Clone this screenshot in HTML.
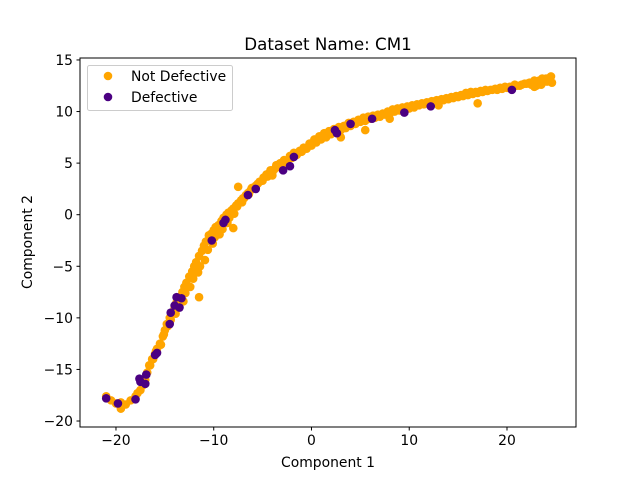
<!DOCTYPE html>
<html><head><meta charset="utf-8"><style>
body{margin:0;background:#fff;}
svg{display:block;font-family:"DejaVu Sans","Liberation Sans",sans-serif;}
</style></head><body>
<svg id="chart" width="640" height="480">
<rect width="640" height="480" fill="#fff"/>
<g id="marks"></g>
<g id="axes"></g>
</svg>
<script>
const okX=[-21,-20.5,-20,-19.5,-19.5,-19,-18.5,-18,-17.8,-17.5,-17.2,-17,-16.8,-16.5,-16.3,-16,-15.8,-15.5,-15.2,-15,-14.8,-14.5,-14.2,-14,-13.8,-13.5,-13.2,-13,-12.8,-12.5,-12.2,-12,-11.8,-11.5,-11.2,-11,-10.8,-10.5,-10.2,-10,-9.8,-9.5,-9.2,-9,-8.7,-8.5,-8.2,-8,-7.7,-7.5,-7.2,-7,-6.7,-6.5,-6.2,-6,-5.5,-5,-4.5,-4,-3.8,-3.5,-3,-2.5,-2,-1.5,-1,-0.5,0,0.5,1,1.5,2,2.5,3,3.5,4,4.5,5,5.5,6,6.5,7,7.5,8,8.5,9,9.5,10,10.5,11,11.5,12,12.5,13,13.5,14,14.5,15,15.5,16,16.5,17,17.5,18,18.5,19,19.5,20,20.5,21,21.5,22,22.5,23,23.3,23.6,24,24.2,24.4,24.6,23,22.5,23.8,24.3,-11.5,-7.5,17,5.5,-8,-4,-1,3,8,13,
-16.6,-15.9,-15.1,-14.4,-13.7,-12.9,-12.1,-11.4,-10.6,-9.9,-9.1,-8.4,-7.6,-6.9,-6.1,-5.3,-4.6,-3.6,-2.8,-1.8,-0.8,0.3,1.3,2.3,3.3,4.3,5.3,6.3,7.3,8.3,9.3,10.3,11.3,12.3,13.3,14.3,15.3,16.3,17.3,18.3,19.3,20.3,21.3,22.3,23.2,23.9,24.5,22.8,23.5,24.1,
-16.2,-15.4,-14.7,-13.9,-13.1,-12.4,-11.6,-10.9,-10.1,-9.4,-8.6,-7.9,-7.1,-6.4,-5.7,-4.9,-4.2,-3.2,-2.2,-1.2,-0.2,0.8,1.8,2.8,3.8,4.8,5.8,6.8,7.8,8.8,9.8,10.8,11.8,12.8,13.8,14.8,15.8,16.8,17.8,18.8,19.8,20.8,21.8,22.8,23.6,24.3];
const okY=[-17.6,-18,-18.3,-18.8,-18.2,-18.4,-18,-17.6,-17.3,-17,-16.5,-16,-15.3,-14.6,-14,-13.5,-13,-12.5,-11.8,-11.2,-10.6,-10,-9.5,-9,-8.5,-8,-7.5,-7,-6.6,-6,-5.5,-5,-4.6,-4,-3.5,-3,-2.6,-2,-1.8,-1.5,-1.2,-1,-0.6,-0.3,0,0.2,0.4,0.6,0.9,1.1,1.4,1.6,1.9,2.1,2.4,2.6,3,3.3,3.7,4.1,4.4,4.6,4.9,5.2,5.5,5.8,6.1,6.4,6.7,7,7.3,7.5,7.8,8,8.2,8.4,8.6,8.8,9,9.1,9.3,9.4,9.5,9.7,9.8,10,10.1,10.2,10.3,10.4,10.6,10.7,10.8,10.9,11,11.1,11.2,11.3,11.4,11.5,11.6,11.7,11.8,11.9,12,12.1,12.1,12.2,12.3,12.4,12.5,12.6,12.7,12.8,12.9,13,13.1,13.2,13.2,13.3,12.8,12.5,12.6,12.9,13.1,-8,2.7,10.8,8.2,-1.3,3.8,6.2,7.5,9.3,10.6,
-14.6,-13.2,-11.6,-10.2,-9.0,-7.6,-6.2,-5.0,-3.4,-2.2,-1.4,-0.3,0.8,1.6,2.6,3.2,3.9,4.8,5.3,6.0,6.5,7.3,7.9,8.3,8.6,9.0,9.4,9.6,9.8,10.2,10.4,10.6,10.8,11.0,11.2,11.4,11.6,11.9,12.0,12.1,12.3,12.4,12.5,12.8,12.9,13.0,13.4,12.4,12.6,12.9,
-14.0,-12.6,-10.8,-9.6,-8.4,-7.0,-5.6,-4.4,-2.8,-1.9,-0.8,0.1,1.2,2.0,2.8,3.6,4.3,5.0,5.7,6.2,6.9,7.6,8.1,8.5,8.9,9.2,9.5,9.7,10.0,10.3,10.5,10.7,10.9,11.1,11.3,11.5,11.8,11.9,12.1,12.2,12.4,12.6,12.7,13.0,13.2,13.0];
const defX=[-21,-19.8,-18,-17.5,-17.6,-17,-16.9,-16,-15.8,-14.5,-14.4,-14,-13.8,-13.3,-13.5,-10.2,-9,-8.8,-6.5,-5.7,-2.9,-2.2,-1.8,2.4,2.6,4,6.2,9.5,12.2,20.5];
const defY=[-17.8,-18.3,-17.9,-16.2,-15.9,-16.4,-15.5,-13.6,-13.4,-10.6,-9.5,-8.8,-8,-8.1,-9,-2.5,-0.8,-0.5,1.9,2.5,4.3,4.7,5.6,8.2,7.9,8.8,9.3,9.9,10.5,12.1];
const xTicks=[-20,-10,0,10,20];
const yTicks=[-20,-15,-10,-5,0,5,10,15];
const L=80,R=576,T=58,B=427,xMin=-23.68,xMax=27.06,yMin=-20.58,yMax=15.19;
const sx=v=>L+(v-xMin)/(xMax-xMin)*(R-L);
const sy=v=>B-(v-yMin)/(yMax-yMin)*(B-T);
const NS='http://www.w3.org/2000/svg';
const marks=document.getElementById('marks'),axes=document.getElementById('axes');
function mk(tag,attrs,parent){const e=document.createElementNS(NS,tag);for(const k in attrs)e.setAttribute(k,attrs[k]);parent.appendChild(e);return e;}
okX.forEach((x,i)=>{const c=mk('circle',{cx:sx(x),cy:sy(okY[i]),r:4.3,fill:'#ffa500'},marks);

});
defX.forEach((x,i)=>{const c=mk('circle',{cx:sx(x),cy:sy(defY[i]),r:4.3,fill:'#4b0082'},marks);

});
const frame=mk('rect',{x:L,y:T,width:R-L,height:B-T,fill:'none',stroke:'#000','stroke-width':1},axes);


xTicks.forEach(t=>{const x=sx(t);mk('line',{x1:x,x2:x,y1:B,y2:B+3.5,stroke:'#000'},axes);
const tx=mk('text',{x:x,y:B+18,'font-size':13.9,'text-anchor':'middle'},axes);tx.textContent=t<0?'\u2212'+(-t):t;

});
yTicks.forEach(t=>{const y=sy(t);mk('line',{x1:L-3.5,x2:L,y1:y,y2:y,stroke:'#000'},axes);
const tx=mk('text',{x:L-7,y:y+5,'font-size':13.9,'text-anchor':'end'},axes);tx.textContent=t<0?'\u2212'+(-t):t;

});
</script>
<svg style="position:absolute;left:0;top:0" width="640" height="480">
<text x="328" y="50" font-size="16.7" text-anchor="middle" font-family="DejaVu Sans,Liberation Sans,sans-serif">Dataset Name: CM1</text>
<text x="328" y="467" font-size="13.9" text-anchor="middle" font-family="DejaVu Sans,Liberation Sans,sans-serif">Component 1</text>
<text x="32" y="242" font-size="13.9" text-anchor="middle" transform="rotate(-90 32 242)" font-family="DejaVu Sans,Liberation Sans,sans-serif">Component 2</text>
<g>
<rect x="87.5" y="65.5" width="145" height="45" rx="2" fill="#fff" fill-opacity="0.8" stroke="#ccc"/>
<circle cx="108" cy="76" r="4.3" fill="#ffa500"/>
<text x="131" y="81" font-size="13.9" font-family="DejaVu Sans,Liberation Sans,sans-serif">Not Defective</text>
<circle cx="108" cy="97" r="4.3" fill="#4b0082"/>
<text x="131" y="102" font-size="13.9" font-family="DejaVu Sans,Liberation Sans,sans-serif">Defective</text>
</g>
</svg>
</body></html>
